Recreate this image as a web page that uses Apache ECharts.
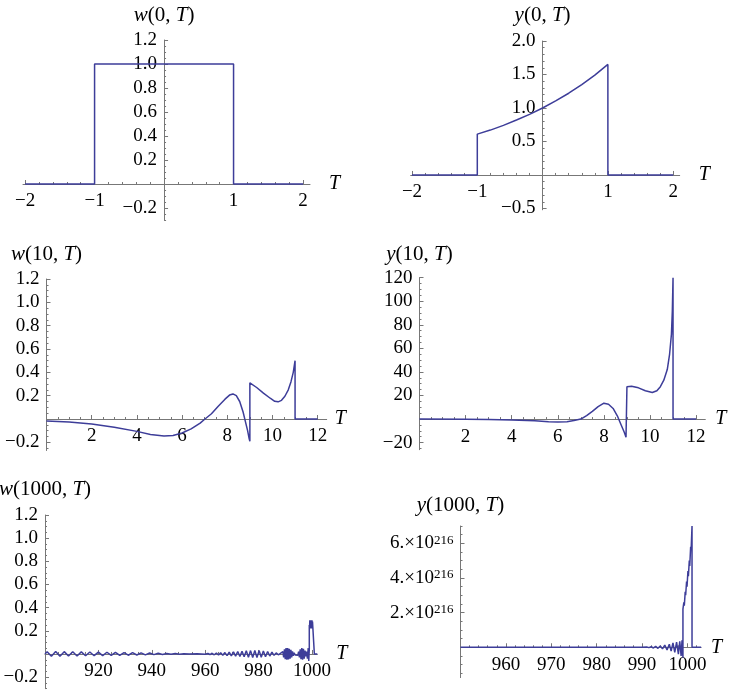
<!DOCTYPE html>
<html>
<head>
<meta charset="utf-8">
<script src="https://cdn.jsdelivr.net/npm/echarts@6/dist/echarts.min.js"></script>
<style>
  html, body { margin: 0; padding: 0; background: #fff; }
  #chart { width: 734px; height: 692px; }
</style>
</head>
<body>
<div id="chart"></div>
<script>
// curves, [T, value]
const w0 = [[-2, 0], [-1, 0], [-1, 1], [1, 1], [1, 0], [2, 0]];
const y0 = [[-2, 0], [-1, 0], [-1, 0.61], [-0.8, 0.67], [-0.6, 0.74], [-0.4, 0.82], [-0.2, 0.905],
  [0, 1.0], [0.2, 1.105], [0.4, 1.22], [0.6, 1.35], [0.8, 1.49], [1, 1.65], [1, 0], [2, 0]];
const w10 = [[0, -0.017], [1, -0.026], [2, -0.042], [3, -0.07], [4, -0.106], [4.6, -0.132], [5.2, -0.146],
  [5.6, -0.142], [6, -0.12], [6.4, -0.085], [6.8, -0.035], [7, -0.002], [7.3, 0.045], [7.6, 0.11],
  [7.9, 0.17], [8.1, 0.205], [8.25, 0.215], [8.4, 0.2], [8.55, 0.15], [8.7, 0.06], [8.8, -0.02],
  [8.9, -0.1], [8.97, -0.17], [9, -0.19], [9, 0.31], [9.3, 0.27], [9.6, 0.222], [9.9, 0.178],
  [10.1, 0.152], [10.25, 0.147], [10.4, 0.16], [10.55, 0.195], [10.7, 0.25], [10.82, 0.32],
  [10.92, 0.4], [11, 0.5], [11, 0], [12, 0]];
const y10 = [[0, 0], [2, -0.1], [3, -0.3], [4, -0.7], [5, -1.5], [5.6, -2.3], [6, -2.5], [6.4, -2.2],
  [6.7, -1.3], [7, 0], [7.25, 3], [7.5, 6.5], [7.75, 10.5], [8, 13.5], [8.2, 12.6], [8.4, 9],
  [8.6, 2], [8.75, -5], [8.88, -11], [8.96, -15.5], [9, -17], [9, 27.5], [9.2, 27.8], [9.5, 26.5],
  [9.8, 24], [10.1, 22.5], [10.3, 24], [10.45, 27.5], [10.6, 33], [10.75, 42], [10.85, 55],
  [10.93, 72], [10.97, 92], [11, 120], [11, 0], [12, 0]];
const w1000 = [[900, 0], [900.8, 0.02], [902.4, -0.02], [904, 0.021], [905.6, -0.019], [907.2, 0.02],
  [908.8, -0.018], [910.4, 0.019], [912, -0.017], [913.6, 0.018], [915.2, -0.016], [916.8, 0.017],
  [918.4, -0.015], [920, 0.016], [921.6, -0.014], [923.2, 0.015], [924.8, -0.013], [926.4, 0.014],
  [928, -0.012], [929.6, 0.012], [931.2, -0.011], [932.8, 0.011], [934.4, -0.009], [936, 0.01],
  [937.6, -0.008], [939.2, 0.008], [940.8, -0.006], [942.4, 0.006], [944, -0.004], [945.6, 0.004],
  [947.2, -0.003], [948.8, 0.003], [950.4, -0.002], [952, 0.002], [954, -0.001], [957, 0.001],
  [960, -0.002], [961, 0.004], [961.8, -0.005], [962.6, 0.006], [963.4, -0.007], [964.2, 0.008],
  [965, -0.009], [965.8, 0.01], [966.6, -0.011], [967.4, 0.012], [968.2, -0.014], [969, 0.015],
  [969.8, -0.016], [970.6, 0.018], [971.4, -0.019], [972.2, 0.021], [973, -0.022], [973.8, 0.024],
  [974.6, -0.025], [975.4, 0.027], [976.2, -0.028], [977, 0.029], [977.8, -0.03], [978.6, 0.03],
  [979.4, -0.03], [980.2, 0.029], [981, -0.028], [981.8, 0.026], [982.6, -0.024], [983.4, 0.021],
  [984.2, -0.018], [985, 0.015], [985.8, -0.012], [986.6, 0.009], [987.4, -0.007], [988.2, 0.006],
  [988.8, -0.01], [989.1, 0.02], [989.4, -0.03], [989.7, 0.04], [990, -0.045], [990.3, 0.05],
  [990.6, -0.05], [990.9, 0.05], [991.2, -0.048], [991.5, 0.045], [991.8, -0.04], [992.1, 0.035],
  [992.4, -0.03], [992.7, 0.022], [993, -0.016], [993.3, 0.01], [993.7, -0.008], [994.2, 0.008],
  [994.7, -0.012], [995, 0.02], [995.3, -0.03], [995.6, 0.04], [995.9, -0.045], [996.2, 0.05],
  [996.5, -0.05], [996.8, 0.045], [997.1, -0.04], [997.4, 0.03], [997.7, -0.02], [998, 0.02],
  [998.3, -0.04], [998.6, 0.05], [998.8, -0.06], [999, 0.04], [999, 0.25], [999.1, 0.22],
  [999.2, 0.29], [999.3, 0.22], [999.4, 0.29], [999.5, 0.22], [999.6, 0.29], [999.7, 0.23],
  [999.8, 0.28], [999.9, 0.22], [1000, 0.29], [1000.1, 0.23], [1000.2, 0.28], [1000.9, 0.29],
  [1000.9, 0], [1002, 0]];
const y1000 = [[950, 0], [990, 0], [991, 0.02e216], [991.5, -0.02e216], [992, 0.03e216],
  [992.5, -0.04e216], [993, 0.05e216], [993.5, -0.06e216], [994, 0.07e216], [994.5, -0.09e216],
  [995, 0.12e216], [995.5, -0.15e216], [996, 0.18e216], [996.4, -0.22e216], [996.8, 0.25e216],
  [997.2, -0.3e216], [997.6, 0.3e216], [998, -0.4e216], [998.3, 0.35e216], [998.6, -0.5e216],
  [998.8, 0.4e216], [999, -0.6e216], [999, 2.2e216], [999.2, 2.6e216], [999.3, 2.4e216],
  [999.5, 3.2e216], [999.6, 3.0e216], [999.8, 3.8e216], [999.9, 3.5e216], [1000.1, 4.4e216],
  [1000.2, 4.1e216], [1000.4, 5.0e216], [1000.5, 4.7e216], [1000.7, 5.8e216], [1000.8, 5.6e216],
  [1001, 7e216], [1001, 0], [1003, 0]];

// tick labels
const w0XTicks = [-2, -1, 1, 2];
const w0YTicks = [-0.2, 0.2, 0.4, 0.6, 0.8, 1.0, 1.2];
const y0XTicks = [-2, -1, 1, 2];
const y0YTicks = [-0.5, 0.5, 1.0, 1.5, 2.0];
const w10XTicks = [2, 4, 6, 8, 10, 12];
const w10YTicks = [-0.2, 0.2, 0.4, 0.6, 0.8, 1.0, 1.2];
const y10XTicks = [2, 4, 6, 8, 10, 12];
const y10YTicks = [-20, 20, 40, 60, 80, 100, 120];
const w1000XTicks = [920, 940, 960, 980, 1000];
const w1000YTicks = [-0.2, 0.2, 0.4, 0.6, 0.8, 1.0, 1.2];
const y1000XTicks = [960, 970, 980, 990, 1000];
const y1000YTicks = [2e216, 4e216, 6e216];

const serif = '"Liberation Serif", "DejaVu Serif", serif';
const blue = '#3d3d99';
const axisGray = '#777';

const intFmt = v => String(v).replace('-', '\u2212');
const oneDec = v => v.toFixed(1).replace('-', '\u2212');
const expFmt = v => '{m|' + Math.round(v / 1e216) + '.\u00d710}{s|216}';

const panels = [
  { data: w0, fn: 'w', n: '0', grid: { left: 23, top: 40, width: 287, height: 180 },
    x: [-2.03, 2.1], y: [-0.3, 1.2], xTicks: w0XTicks, yTicks: w0YTicks, xMinor: 0.2, yMinor: 0.05,
    xFmt: intFmt, yFmt: oneDec, tGap: 19, nGap: 14 },
  { data: y0, fn: 'y', n: '0', grid: { left: 410.7, top: 41, width: 269, height: 168.8 },
    x: [-2.02, 2.1], y: [-0.52, 2.0], xTicks: y0XTicks, yTicks: y0YTicks, xMinor: 0.2, yMinor: 0.1,
    xFmt: intFmt, yFmt: oneDec, tGap: 19, nGap: 15 },
  { data: w10, fn: 'w', n: '10', grid: { left: 46.5, top: 279, width: 280.2, height: 171.5 },
    x: [0, 12.4], y: [-0.27, 1.2], xTicks: w10XTicks, yTicks: w10YTicks, xMinor: 0.5, yMinor: 0.05,
    xFmt: intFmt, yFmt: oneDec, tGap: 8, nGap: 14 },
  { data: y10, fn: 'y', n: '10', grid: { left: 419.5, top: 277.7, width: 285.8, height: 172 },
    x: [0, 12.4], y: [-26, 120], xTicks: y10XTicks, yTicks: y10YTicks, xMinor: 0.5, yMinor: 5,
    xFmt: intFmt, yFmt: intFmt, tGap: 10, nGap: 13 },
  { data: w1000, fn: 'w', n: '1000', grid: { left: 45, top: 515, width: 272.3, height: 173.7 },
    x: [900, 1002], y: [-0.3, 1.2], xTicks: w1000XTicks, yTicks: w1000YTicks, xMinor: 5, yMinor: 0.05,
    xFmt: intFmt, yFmt: oneDec, tGap: 19, nGap: 15 },
  { data: y1000, fn: 'y', n: '1000', grid: { left: 460.5, top: 526, width: 240.6, height: 151.6 },
    x: [950, 1003], y: [-1.75e216, 7e216], xTicks: y1000XTicks, yTicks: y1000YTicks, xMinor: 2,
    yMinor: 0.5e216, xFmt: intFmt, yFmt: expFmt, tGap: 10, nGap: 10 }
];

// minor tick positions between the range ends
function minorTicks(range, step) {
  const out = [];
  for (let k = Math.ceil(range[0] / step - 1e-9); k * step <= range[1] * (1 + 1e-12) + 1e-12; k++) {
    out.push(+(k * step).toPrecision(12));
  }
  return out;
}

// shift an axis from the grid edge to the other axis' zero (negative offset moves it inward)
function zeroOffset(range, size) {
  if (range[0] >= 0 || range[1] <= 0) return 0;
  return -size * (0 - range[0]) / (range[1] - range[0]);
}

const grids = [], xAxes = [], yAxes = [], series = [];

const labelStyle = { fontFamily: serif, fontSize: 19, color: '#000' };
const richY = {
  m: { fontFamily: serif, fontSize: 19, color: '#000' },
  s: { fontFamily: serif, fontSize: 13, color: '#000', verticalAlign: 'top' }
};
const nameRich = {
  i: { fontFamily: serif, fontSize: 21, fontStyle: 'italic', color: '#000' },
  r: { fontFamily: serif, fontSize: 21, color: '#000' }
};

panels.forEach((p, i) => {
  const xOff = zeroOffset(p.y, p.grid.height);
  const yOff = zeroOffset(p.x, p.grid.width);
  p.xOff = xOff; p.yOff = yOff;
  grids.push(Object.assign({ containLabel: false, outerBoundsMode: 'none' }, p.grid));
  xAxes.push({
    type: 'value', gridIndex: i, position: 'bottom', offset: xOff, min: p.x[0], max: p.x[1],
    axisLine: { show: true, onZero: false, lineStyle: { color: axisGray, width: 1 } },
    axisTick: { show: true, inside: true, length: 4, customValues: p.xTicks, lineStyle: { color: axisGray } },
    axisLabel: { show: true, margin: 8, customValues: p.xTicks, formatter: p.xFmt, ...labelStyle },
    splitLine: { show: false },
    name: 'T', nameLocation: 'end', nameGap: p.tGap,
    nameTextStyle: { fontFamily: serif, fontSize: 20, fontStyle: 'italic', color: '#000' }
  });
  yAxes.push({
    type: 'value', gridIndex: i, position: 'left', offset: yOff, min: p.y[0], max: p.y[1],
    axisLine: { show: true, onZero: false, lineStyle: { color: axisGray, width: 1 } },
    axisTick: { show: true, inside: true, length: 4, customValues: p.yTicks, lineStyle: { color: axisGray } },
    axisLabel: { show: true, margin: 7, customValues: p.yTicks, formatter: p.yFmt, rich: richY, ...labelStyle },
    splitLine: { show: false },
    name: '{i|' + p.fn + '}{r|(' + p.n + ', }{i|T}{r|)}', nameLocation: 'end', nameGap: p.nGap,
    nameTextStyle: { rich: nameRich, fontFamily: serif, fontSize: 21, color: '#000' }
  });
  series.push({
    type: 'line', xAxisIndex: i, yAxisIndex: i, data: p.data,
    showSymbol: false, symbol: 'none', silent: true, clip: true,
    lineStyle: { color: blue, width: 1.5 }
  });
});

// overlay axes carrying the short minor ticks
panels.forEach((p, i) => {
  xAxes.push({
    type: 'value', gridIndex: i, position: 'bottom', offset: p.xOff, min: p.x[0], max: p.x[1],
    axisLine: { show: false, onZero: false },
    axisTick: { show: true, inside: true, length: 2, customValues: minorTicks(p.x, p.xMinor), lineStyle: { color: axisGray } },
    axisLabel: { show: false }, splitLine: { show: false }
  });
  yAxes.push({
    type: 'value', gridIndex: i, position: 'left', offset: p.yOff, min: p.y[0], max: p.y[1],
    axisLine: { show: false, onZero: false },
    axisTick: { show: true, inside: true, length: 2, customValues: minorTicks(p.y, p.yMinor), lineStyle: { color: axisGray } },
    axisLabel: { show: false }, splitLine: { show: false }
  });
});

const chart = echarts.init(document.getElementById('chart'), null, { renderer: 'canvas' });
chart.setOption({
  backgroundColor: '#fff',
  animation: false,
  grid: grids,
  xAxis: xAxes,
  yAxis: yAxes,
  series: series
});
</script>
</body>
</html>
